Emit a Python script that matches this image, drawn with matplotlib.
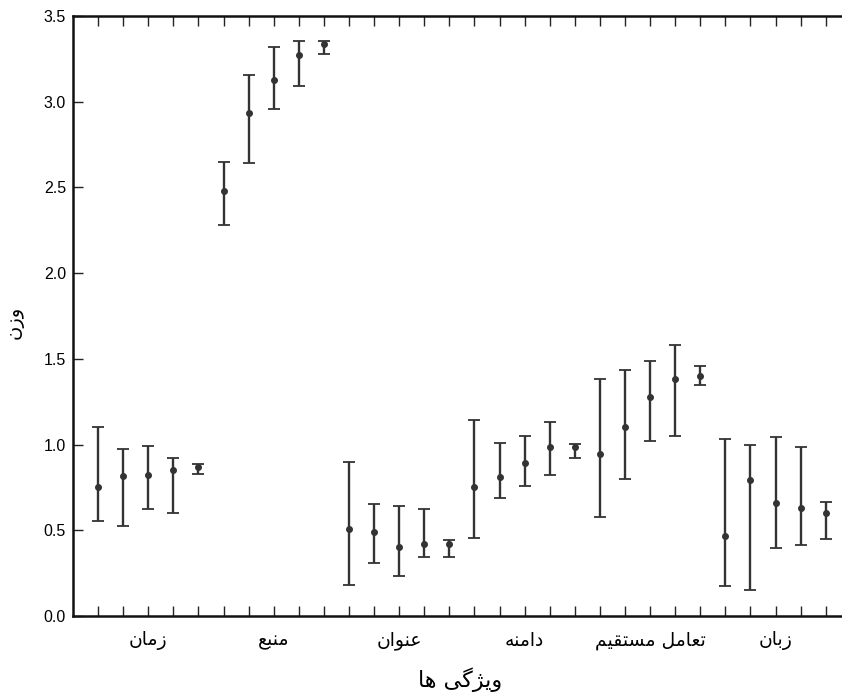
import matplotlib
matplotlib.use('Agg')
import matplotlib.pyplot as plt
import numpy as np

# feature groups (Persian), five runs per group
groups = ['زمان', 'منبع', 'عنوان', 'دامنه', 'تعامل مستقیم', 'زبان']
runs_per_group = 5
x_label = 'ویژگی ها'
y_label = 'وزن'

# mean weight of each point
means = [0.751, 0.819, 0.821, 0.852, 0.871,
         2.481, 2.936, 3.125, 3.274, 3.339,
         0.508, 0.490, 0.401, 0.422, 0.420,
         0.752, 0.809, 0.891, 0.984, 0.984,
         0.947, 1.104, 1.276, 1.383, 1.398,
         0.467, 0.793, 0.659, 0.632, 0.603]
# lower / upper end of each error bar
lows = [0.556, 0.525, 0.622, 0.599, 0.828,
        2.281, 2.642, 2.957, 3.090, 3.278,
        0.181, 0.309, 0.235, 0.344, 0.344,
        0.455, 0.690, 0.760, 0.824, 0.920,
        0.578, 0.797, 1.023, 1.050, 1.350,
        0.175, 0.150, 0.395, 0.412, 0.449]
highs = [1.104, 0.974, 0.994, 0.920, 0.885,
         2.650, 3.154, 3.321, 3.352, 3.352,
         0.896, 0.653, 0.642, 0.622, 0.443,
         1.145, 1.007, 1.050, 1.130, 1.001,
         1.385, 1.435, 1.489, 1.579, 1.457,
         1.033, 1.000, 1.042, 0.988, 0.667]
y_ticks = [0.0, 0.5, 1.0, 1.5, 2.0, 2.5, 3.0, 3.5]

# presentation forms for the letters used: (isolated, final, initial, medial)
DUAL = {
    'ب': '\uFE8F\uFE90\uFE91\uFE92',
    'ت': '\uFE95\uFE96\uFE97\uFE98',
    'س': '\uFEB1\uFEB2\uFEB3\uFEB4',
    'ع': '\uFEC9\uFECA\uFECB\uFECC',
    'ق': '\uFED5\uFED6\uFED7\uFED8',
    'گ': '\uFB92\uFB93\uFB94\uFB95',
    'ل': '\uFEDD\uFEDE\uFEDF\uFEE0',
    'م': '\uFEE1\uFEE2\uFEE3\uFEE4',
    'ن': '\uFEE5\uFEE6\uFEE7\uFEE8',
    'ه': '\uFEE9\uFEEA\uFEEB\uFEEC',
    'ی': '\uFBFC\uFBFD\uFBFE\uFBFF',
    'ي': '\uFEF1\uFEF2\uFEF3\uFEF4',
}
RIGHT = {
    'ا': '\uFE8D\uFE8E',
    'د': '\uFEA9\uFEAA',
    'ز': '\uFEAF\uFEB0',
    'ژ': '\uFB8A\uFB8B',
    'و': '\uFEED\uFEEE',
}


def shape(text):
    # matplotlib does no Arabic shaping or bidi, so do a minimal version here
    out = []
    for i, c in enumerate(text):
        prev = text[i - 1] if i > 0 else ''
        nxt = text[i + 1] if i + 1 < len(text) else ''
        if c in DUAL or c in RIGHT:
            forms = DUAL.get(c, RIGHT.get(c))
            jp = prev in DUAL
            jn = c in DUAL and (nxt in DUAL or nxt in RIGHT)
            if jp and jn:
                out.append(forms[3])
            elif jp:
                out.append(forms[1])
            elif jn:
                out.append(forms[2])
            else:
                out.append(forms[0])
        else:
            out.append(c)
    return ''.join(reversed(out))


def main():
    plt.rcParams['font.family'] = ['Liberation Sans', 'DejaVu Sans']
    arabic = ['DejaVu Sans']

    x = np.arange(len(means))
    m = np.array(means)
    yerr = [m - np.array(lows), np.array(highs) - m]

    fig = plt.figure(figsize=(8.42, 6.96), dpi=100)
    ax = fig.add_axes([73 / 842, 80 / 696, 769 / 842, 600 / 696])

    ax.errorbar(x, m, yerr=yerr, fmt='o', color='#333333', ecolor='#333333',
                markersize=4, elinewidth=1.7, capsize=4.3, capthick=1.3)

    ax.set_xlim(-1, 29.65)
    ax.set_ylim(0, 3.5)

    # ticks at every run, labels only under the middle run of each group
    labels = [''] * len(means)
    for k, g in enumerate(groups):
        labels[k * runs_per_group + runs_per_group // 2] = shape(g)
    ax.set_xticks(x)
    ax.set_xticklabels(labels, fontfamily=arabic, fontsize=13.5)
    ax.set_yticks(y_ticks)
    ax.set_yticklabels(['%.1f' % v for v in y_ticks], fontsize=11.5)

    ax.tick_params(axis='x', direction='in', top=True, bottom=True,
                   length=7, width=1, pad=11, colors='#222222')
    ax.tick_params(axis='y', direction='in', left=True, right=False,
                   length=7, width=1, pad=5, colors='#222222')
    for t in ax.get_xticklabels() + ax.get_yticklabels():
        t.set_color('black')

    ax.spines['right'].set_visible(False)
    for s in ['left', 'top', 'bottom']:
        ax.spines[s].set_linewidth(1.8)
        ax.spines[s].set_color('#111111')

    ax.set_xlabel(shape(x_label), fontfamily=arabic, fontsize=16)
    ax.xaxis.set_label_coords(0.503, -0.085)
    ax.set_ylabel(shape(y_label), fontfamily=arabic, fontsize=14)
    ax.yaxis.set_label_coords(-0.064, 0.49)

    fig.savefig('out.png', dpi=100)
    plt.close(fig)


if __name__ == '__main__':
    main()
